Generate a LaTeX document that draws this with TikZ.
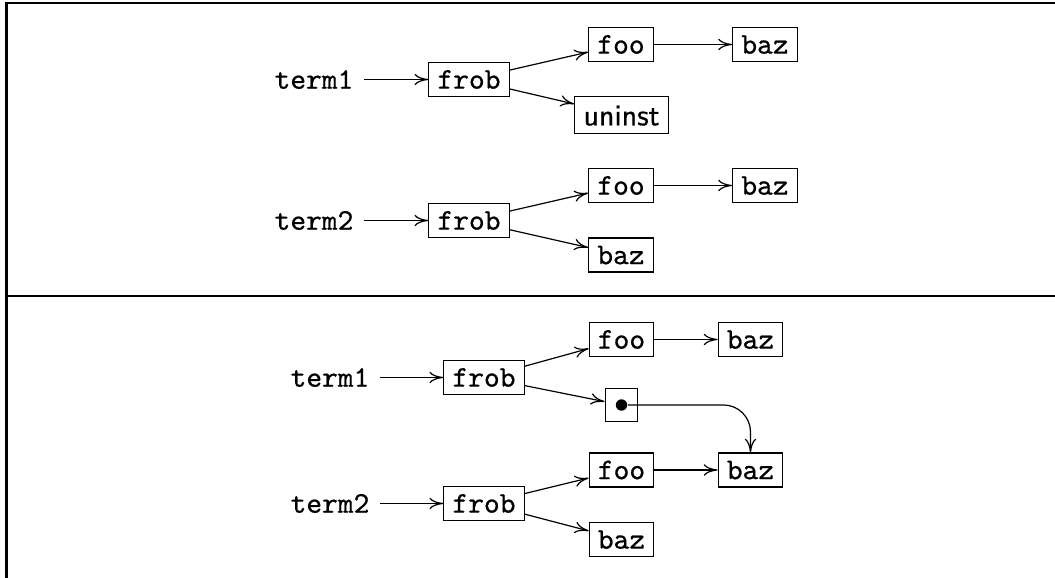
\documentclass[tikz,border=0pt]{standalone}
\usepackage{fontspec}
\setmonofont{Latin Modern Mono}[FakeBold=0.6]
\setsansfont{Latin Modern Sans}[FakeBold=0.6]
\usetikzlibrary{arrows.meta}
\begin{document}
\begin{tikzpicture}[x=0.33333pt, y=-0.33333pt,
  box/.style={draw, line width=0.4pt, font=\ttfamily, inner xsep=2.9pt,
    inner ysep=2.6pt, text height=6.1pt, text depth=0pt},
  sbox/.style={box, font=\sffamily, text height=6.9pt},
  lbl/.style={font=\ttfamily, inner xsep=3.4pt, inner ysep=0pt},
  ptrbox/.style={draw, line width=0.4pt, minimum size=10.9pt, inner sep=0pt},
  dotmark/.style={circle, fill, inner sep=0pt, minimum size=3.8pt},
  link/.style={-{To[length=4.6pt,width=3.8pt]}, line width=0.4pt},
  frame/.style={line width=0.8pt}]
\useasboundingbox (0,0) rectangle (1055,578);

% panel frame
\draw[frame] (1055,3.3) -- (6.5,3.3) -- (6.5,578);
\draw[frame] (6.5,296) -- (1055,296);

% ---- upper panel: first term
\node[lbl] (tA) at (314,79.5) {term1};
\node[box] (fA) at (469,79.5) {frob};
\node[box] (oA) at (621,44.5) {foo};
\node[box] (bA) at (765,44.5) {baz};
\node[sbox] (uA) at (621.5,115) {uninst};
\draw[link] (tA) -- (fA);
\draw[link] (fA) -- (oA);
\draw[link] (oA) -- (bA);
\draw[link] (fA) -- (uA);

% ---- upper panel: second term
\node[lbl] (tB) at (314,220.5) {term2};
\node[box] (fB) at (469,220.5) {frob};
\node[box] (oB) at (621,185.5) {foo};
\node[box] (bB) at (765,185.5) {baz};
\node[box] (zB) at (621,255) {baz};
\draw[link] (tB) -- (fB);
\draw[link] (fB) -- (oB);
\draw[link] (oB) -- (bB);
\draw[link] (fB) -- (zB);

% ---- lower panel: shared structure
\node[lbl] (tC) at (330,377.5) {term1};
\node[box] (fC) at (484,377.5) {frob};
\node[box] (oC) at (621.5,339.5) {foo};
\node[box] (bC) at (750.5,339.5) {baz};
\node[ptrbox] (pC) at (621.5,405) {};
\node[dotmark] (dC) at (pC.center) {};
\draw[link] (tC) -- (fC);
\draw[link] (fC) -- (oC);
\draw[link] (oC) -- (bC);
\draw[link] (fC) -- (pC);

\node[lbl] (tD) at (330,503.5) {term2};
\node[box] (fD) at (484,503.5) {frob};
\node[box] (oD) at (621.5,470) {foo};
\node[box] (bD) at (750.5,470) {baz};
\node[box] (zD) at (621.5,539.5) {baz};
\draw[link] (tD) -- (fD);
\draw[link] (fD) -- (oD);
\draw[link] (oD) -- (bD);
\draw[link] (fD) -- (zD);

% pointer cell refers to the shared baz
\draw[link, rounded corners=9pt] (dC) -| (bD);
\end{tikzpicture}
\end{document}
